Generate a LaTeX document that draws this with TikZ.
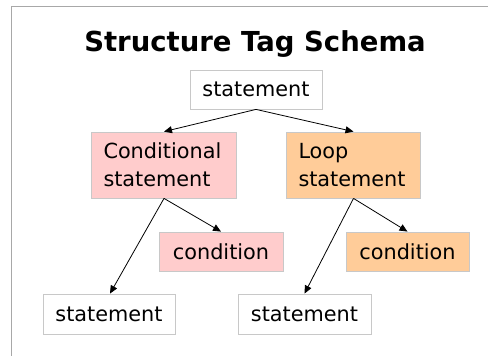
\documentclass[tikz,border=0pt]{standalone}
\usepackage{fontspec}
\setmainfont{DejaVu Sans}
\usetikzlibrary{arrows.meta}
\definecolor{framegray}{HTML}{A8A8A8}
\definecolor{boxgray}{HTML}{C8C8C8}
\definecolor{pinkfill}{HTML}{FFCCCC}
\definecolor{orangefill}{HTML}{FFCC99}
\tikzset{
  box/.style={draw=boxgray, line width=0.8pt, minimum height=39pt, inner sep=0pt, font=\fontsize{20.8}{28}\selectfont, text=black},
  conn/.style={line width=0.8pt, -{Triangle[length=8pt,width=7pt]}},
}
\begin{document}
\begin{tikzpicture}[x=1pt,y=-1pt]
\useasboundingbox (0,0) rectangle (488,356);
\draw[framegray, line width=1pt] (11.5,356) -- (11.5,6.5) -- (488,6.5);
\node[anchor=base, font=\bfseries\fontsize{27.5}{32}\selectfont] (title) at (255,51.5) {Structure Tag Schema};
\node[box, minimum width=132pt, fill=white] (top) at (256,89.5) {statement};
\node[box, minimum width=145pt, minimum height=66pt, fill=pinkfill, align=left, text width=121pt] (cond) at (164,165) {Conditional\\statement};
\node[box, minimum width=134pt, minimum height=66pt, fill=orangefill, align=left, text width=110pt] (loop) at (353.5,165) {Loop\\statement};
\node[box, minimum width=124pt, fill=pinkfill] (cc) at (221,251.5) {condition};
\node[box, minimum width=123pt, fill=orangefill] (lc) at (407.5,251.5) {condition};
\node[box, minimum width=132pt, minimum height=40pt, fill=white] (cs) at (109,314) {statement};
\node[box, minimum width=133pt, minimum height=40pt, fill=white] (ls) at (304.5,314) {statement};
\draw[conn] (top.south) -- (cond.north);
\draw[conn] (top.south) -- (loop.north);
\draw[conn] (cond.south) -- (cc.north);
\draw[conn] (cond.south) -- ([xshift=1pt]cs.north);
\draw[conn] (loop.south) -- (lc.north);
\draw[conn] (loop.south) -- (ls.north);
\end{tikzpicture}
\end{document}
